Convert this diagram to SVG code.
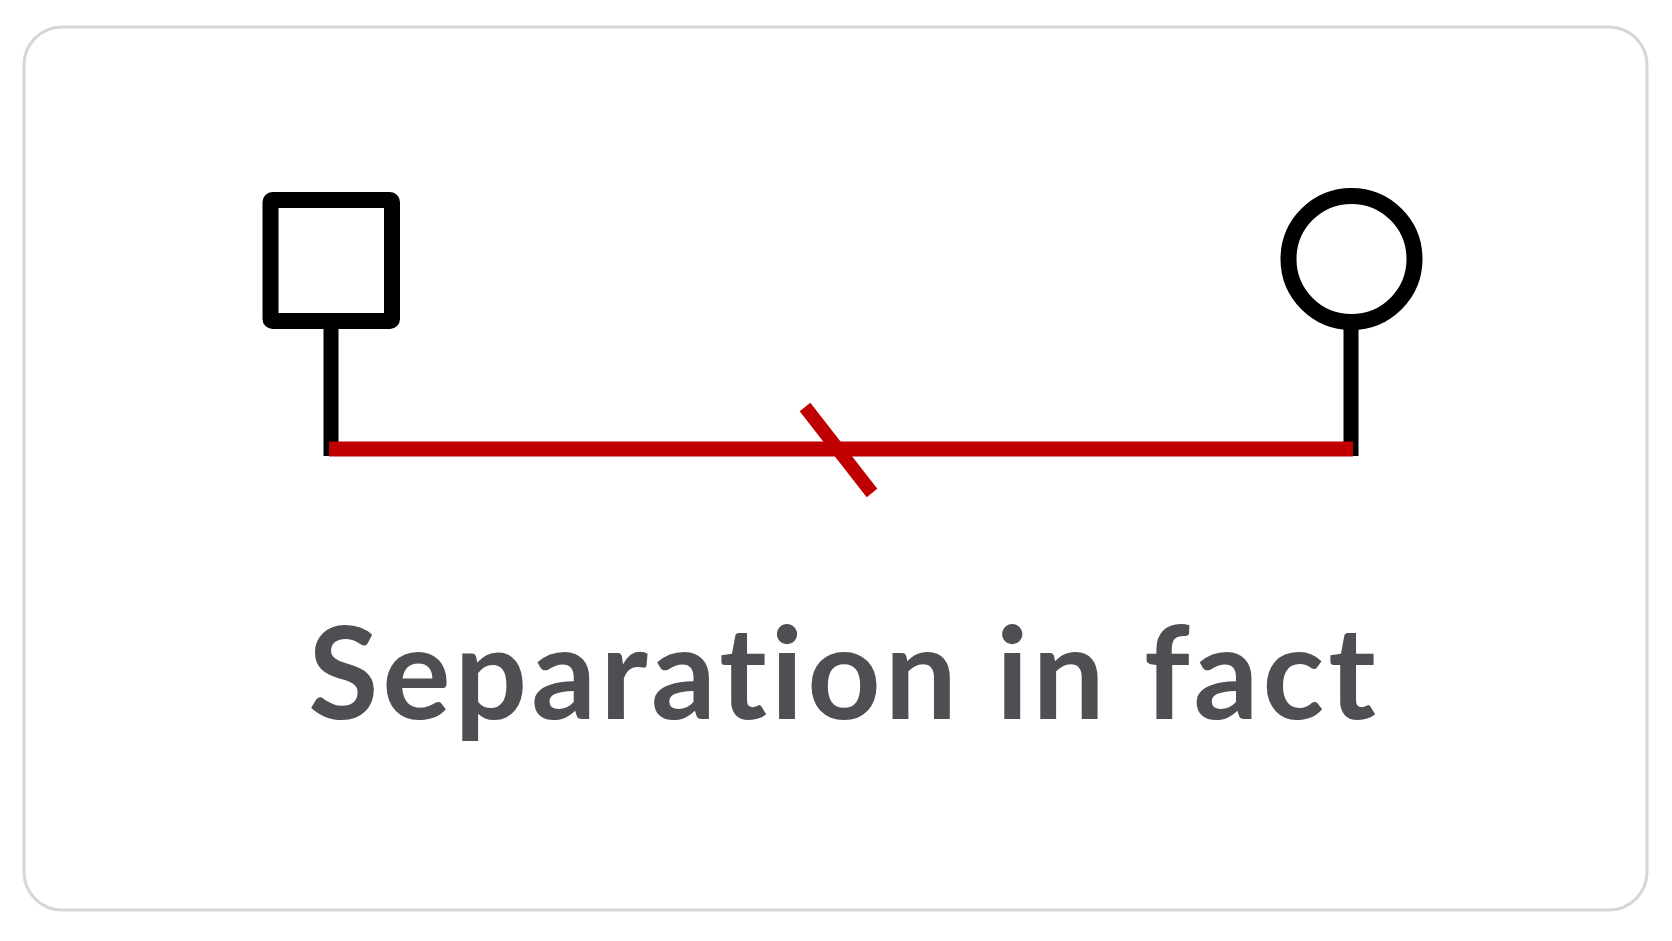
<svg xmlns="http://www.w3.org/2000/svg" width="1672" height="941" viewBox="0 0 1672 941">
<style>
.frame{fill:#ffffff;stroke:#d6d6d6;stroke-width:3}
.sym{fill:none;stroke:#000000;stroke-width:16;stroke-linejoin:round}
.stem{stroke:#000000;stroke-width:15;fill:none}
.rel{stroke:#c00000;stroke-width:15;fill:none}
.cut{stroke:#c00000;stroke-width:13.5;fill:none}
.label{font-family:Lato,"Liberation Sans",sans-serif;font-weight:700;font-size:128px;letter-spacing:4px;fill:#4e4f53}
</style>
<rect width="1672" height="941" fill="#ffffff"/>
<rect class="frame" x="24" y="27" width="1623" height="883" rx="38"/>
<g id="connectors">
<line class="stem" x1="331" y1="321" x2="331" y2="456"/>
<line class="stem" x1="1351" y1="322" x2="1351" y2="456"/>
<line class="rel" x1="329" y1="449" x2="1353" y2="449"/>
<line class="cut" x1="805" y1="407" x2="872" y2="493"/>
</g>
<g id="male">
<rect class="sym" x="270.5" y="200" width="121.5" height="121" rx="2"/>
</g>
<g id="female">
<circle class="sym" cx="1351.5" cy="259" r="63"/>
</g>
<g id="caption">
<text class="label" x="844" y="719" text-anchor="middle">Separation in fact</text>
</g>
</svg>
